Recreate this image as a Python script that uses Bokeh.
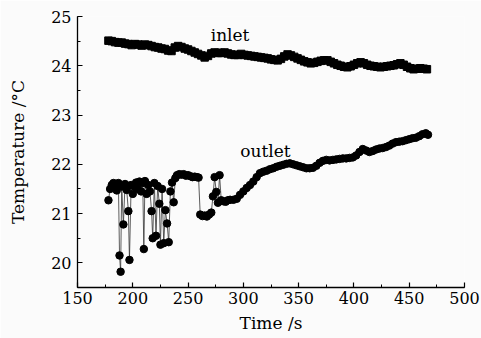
from bokeh.plotting import figure
from bokeh.models import SingleIntervalTicker, Range1d
from bokeh.embed import file_html
from bokeh.resources import INLINE
from bokeh.core.properties import value

inlet_t = [178, 181, 184, 187, 190, 193, 196, 199, 202, 205, 208, 211, 214, 217, 220, 223, 226, 229, 232, 235,
           238, 241, 244, 247, 250, 253, 256, 259, 262, 265, 268, 271, 274, 277, 280, 283, 286, 289, 292, 295,
           298, 301, 304, 307, 310, 313, 316, 319, 322, 325, 328, 331, 334, 337, 340, 343, 346, 349, 352, 355,
           358, 361, 364, 367, 370, 373, 376, 379, 382, 385, 388, 391, 394, 397, 400, 403, 406, 409, 412, 415,
           418, 421, 424, 427, 430, 433, 436, 439, 442, 445, 448, 451, 454, 457, 460, 463, 466]
inlet_T = [24.51, 24.50, 24.48, 24.47, 24.47, 24.45, 24.44, 24.42, 24.44, 24.43, 24.41, 24.43, 24.42, 24.40, 24.38,
           24.37, 24.35, 24.34, 24.31, 24.30, 24.37, 24.40, 24.38, 24.35, 24.33, 24.30, 24.27, 24.24, 24.21, 24.17,
           24.20, 24.25, 24.27, 24.26, 24.26, 24.27, 24.25, 24.23, 24.22, 24.22, 24.24, 24.22, 24.21, 24.20, 24.19,
           24.18, 24.17, 24.16, 24.15, 24.13, 24.12, 24.11, 24.14, 24.19, 24.23, 24.21, 24.18, 24.15, 24.12, 24.09,
           24.07, 24.05, 24.06, 24.08, 24.10, 24.11, 24.11, 24.08, 24.05, 24.02, 24.00, 23.98, 23.97, 23.99, 24.02,
           24.05, 24.07, 24.05, 24.02, 24.00, 23.99, 23.98, 23.97, 23.98, 23.99, 24.00, 24.01, 24.03, 24.05, 24.02,
           23.98, 23.95, 23.93, 23.94, 23.95, 23.94, 23.93]

outlet_t = [178, 179.5, 181, 182.5, 184, 185.5, 187, 188, 189, 190, 191.5, 193, 194.5, 196, 197, 198.5, 200,
            201.5, 203, 204.5, 206, 207.5, 209, 210, 211, 212.5, 214, 215.5, 217, 218, 219.5, 221, 222.5, 224,
            225, 226.5, 228, 229.5, 231, 232.5, 234, 235.5, 237, 238.5, 240, 242, 244, 246, 248, 250, 252, 254,
            256, 258, 259.5, 261, 263, 265, 267, 269, 271, 272.5, 274, 275.5, 277, 278.5, 280, 282, 284, 286,
            288, 291, 294, 297, 300, 303, 306, 309, 312, 315, 318, 321, 324, 327, 330, 333, 336, 339, 342, 345,
            348, 351, 354, 357, 360, 363, 366, 369, 372, 375, 378, 381, 384, 387, 390, 393, 396, 399, 402, 405,
            408, 411, 414, 417, 420, 423, 426, 429, 432, 435, 438, 441, 444, 447, 450, 453, 456, 459, 462, 465, 467]
outlet_T = [21.27, 21.50, 21.58, 21.62, 21.60, 21.47, 21.62, 20.15, 19.82, 21.55, 20.78, 21.60, 21.48, 21.05,
            20.06, 21.58, 21.40, 21.55, 21.63, 21.50, 21.65, 21.45, 21.62, 20.28, 21.66, 21.40, 21.58, 21.45,
            21.05, 20.50, 21.62, 20.55, 21.56, 21.20, 20.37, 21.50, 20.40, 21.07, 20.80, 20.42, 21.45, 21.63,
            21.23, 21.72, 21.78, 21.80, 21.79, 21.80, 21.77, 21.78, 21.76, 21.74, 21.75, 21.74, 21.73, 20.98,
            20.95, 20.96, 20.94, 20.98, 21.02, 21.35, 21.74, 21.44, 21.22, 21.78, 21.27, 21.25, 21.24, 21.27,
            21.28, 21.28, 21.30, 21.38, 21.45, 21.52, 21.58, 21.65, 21.74, 21.82, 21.85, 21.87, 21.90, 21.92,
            21.95, 21.97, 21.99, 22.01, 22.02, 22.00, 21.98, 21.96, 21.94, 21.92, 21.92, 21.93, 21.97, 22.03,
            22.07, 22.09, 22.08, 22.09, 22.10, 22.11, 22.12, 22.12, 22.13, 22.14, 22.18, 22.25, 22.31, 22.28,
            22.25, 22.27, 22.30, 22.32, 22.33, 22.35, 22.38, 22.42, 22.45, 22.46, 22.47, 22.49, 22.51, 22.53,
            22.54, 22.57, 22.61, 22.63, 22.60]

labels = ["inlet", "outlet"]
label_x = [288, 320]
label_y = [24.62, 22.27]

FONT = "DejaVu Serif"
BG = "#fbfbfb"

p = figure(width=481, height=338, output_backend="svg", toolbar_location=None,
           x_range=Range1d(150, 500), y_range=Range1d(19.5, 25.0),
           min_border_left=77, min_border_right=17, min_border_top=16, min_border_bottom=51,
           background_fill_color=BG, border_fill_color=BG)
p.outline_line_color = None
p.xgrid.visible = False
p.ygrid.visible = False

p.xaxis.ticker = SingleIntervalTicker(interval=50, num_minor_ticks=2)
p.yaxis.ticker = SingleIntervalTicker(interval=1, num_minor_ticks=2)
for ax in (p.xaxis[0], p.yaxis[0]):
    ax.major_tick_in = 5
    ax.major_tick_out = 0
    ax.minor_tick_in = 3
    ax.minor_tick_out = 0
    ax.axis_line_width = 1.3
    ax.major_tick_line_width = 1.2
    ax.minor_tick_line_width = 1.0
    ax.major_label_text_font = FONT
    ax.major_label_text_font_size = "16px"
    ax.major_label_text_color = "black"
    ax.axis_label_text_font = FONT
    ax.axis_label_text_font_size = "17px"
    ax.axis_label_text_font_style = "normal"
    ax.axis_label_text_color = "black"
p.xaxis.axis_label = "Time /s"
p.yaxis.axis_label = "Temperature /°C"
p.xaxis.major_label_standoff = 4
p.yaxis.major_label_standoff = 6
p.xaxis.axis_label_standoff = 6
p.yaxis.axis_label_standoff = 20

p.line(outlet_t, outlet_T, line_color="#333333", line_width=0.8)
p.scatter(outlet_t, outlet_T, marker="circle", size=7.5, fill_color="black", line_color="black")

p.line(inlet_t, inlet_T, line_color="black", line_width=1)
p.scatter(inlet_t, inlet_T, marker="square", size=7.5, fill_color="black", line_color="black")

p.text(x=label_x, y=label_y, text=labels, text_font=value(FONT), text_font_size="17px",
       text_align="center", text_baseline="middle", text_color="black")

open("out.html", "w").write(file_html(p, INLINE))
